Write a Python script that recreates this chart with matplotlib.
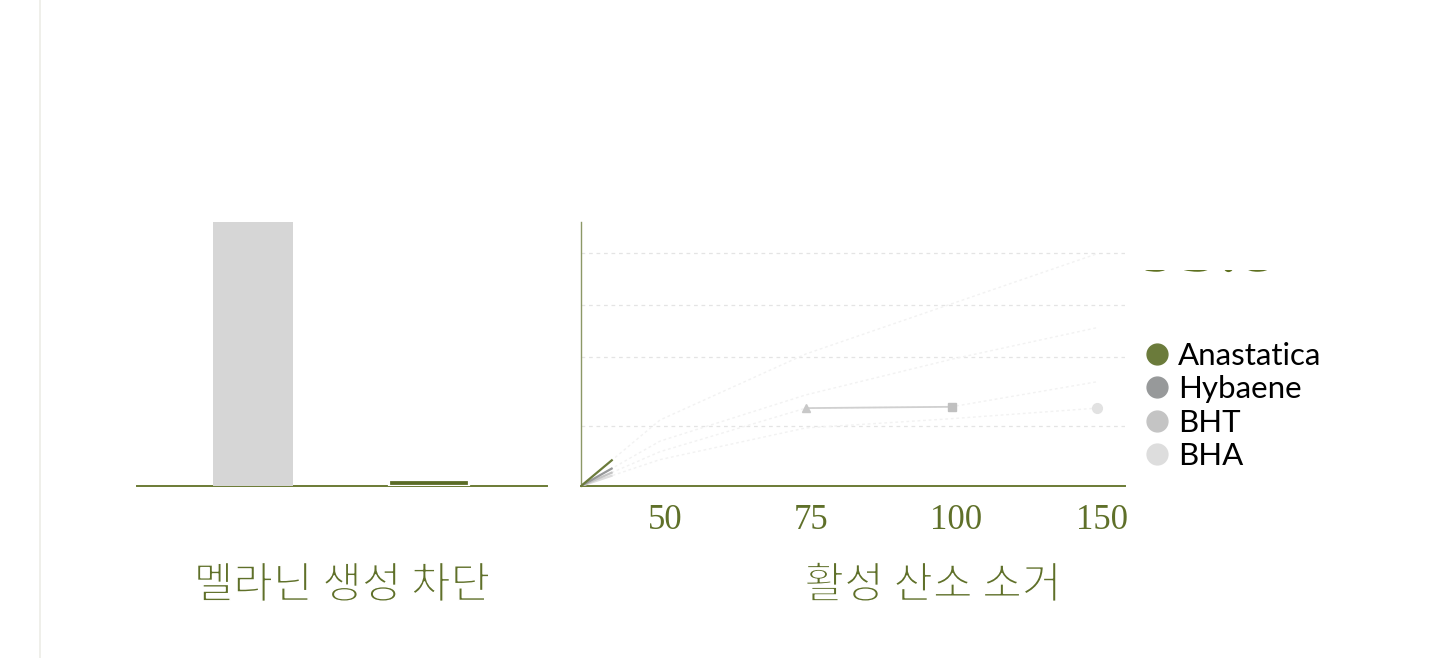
import matplotlib
matplotlib.use("Agg")
import matplotlib.pyplot as plt
import matplotlib.patheffects as pe
from matplotlib.font_manager import FontProperties
from matplotlib.lines import Line2D
from matplotlib.patches import PathPatch
from matplotlib.textpath import TextPath
from matplotlib.transforms import Affine2D, Bbox, ScaledTranslation

# --- data -------------------------------------------------------------
bar_labels = ["Hybaene", "Anastatica"]
bar_values = [100, 2.3]

doses = ["50", "75", "100", "150"]
anastatica = [25, 50, 69, 88]
hybaene = [17, 34.5, 48, 60]
bht = [13, 29.5, 30, 39.5]
bha = [10, 22, 25.5, 29.5]
grid_levels = [22.7, 48.9, 68.6, 88.3]

series_names = ["Anastatica", "Hybaene", "BHT", "BHA"]
series_colors = ["#6b7b3b", "#97999a", "#c4c4c4", "#dddddd"]
progress = 0.4  # how far the animated lines have grown from the origin
headline = "93.8"

OLIVE = "#5f7029"
plt.rcParams["font.family"] = ["Noto Sans CJK KR", "DejaVu Sans"]

fig = plt.figure(figsize=(14.3, 6.58), dpi=100)

# thin rule at the far left
fig.add_artist(Line2D([0.028, 0.028], [0, 1], transform=fig.transFigure,
                      color="#ecece6", lw=1.2))

# --- left: melanin bars ----------------------------------------------
ax1 = fig.add_axes([0.0958, 0.2614, 0.2867, 0.4012])
ax1.bar([0], bar_values[:1], width=0.453, color="#d6d6d6", zorder=2)
ax1.bar([1], bar_values[1:], width=0.453, color="#5a6b26",
        edgecolor="white", linewidth=1.6, zorder=3)
ax1.set_xlim(-0.657, 1.666)
ax1.set_ylim(0, 100)
for s in ["top", "right", "left"]:
    ax1.spines[s].set_visible(False)
ax1.spines["bottom"].set_color("#6b7b35")
ax1.spines["bottom"].set_linewidth(1.4)
ax1.spines["bottom"].set_zorder(1)
ax1.set_xticks([])
ax1.set_yticks([])

# --- right: antioxidant lines ----------------------------------------
ax2 = fig.add_axes([0.4063, 0.2614, 0.3804, 0.4012])
xs = list(range(len(doses)))
ax2.set_xlim(-0.542, 3.19)
ax2.set_ylim(0, 100)
x0 = ax2.get_xlim()[0]

for lvl in grid_levels:
    ax2.axhline(lvl, color="#e4e4e4", lw=0.9, ls=(0, (3, 3)), zorder=0)

# faded remnants of the full curves
for vals in [anastatica, hybaene, bht, bha]:
    ax2.plot([x0] + xs, [0] + vals, color="#f2f2f2", lw=1.0,
             ls=(0, (2, 2)), zorder=1)

# BHT points that are already settled
ax2.plot(xs[1:3], bht[1:3], color="#d0d0d0", lw=1.3, zorder=2)
ax2.plot(xs[1], bht[1], marker="^", color="#c8c8c8", ms=6, zorder=3)
ax2.plot(xs[2], bht[2], marker="s", color="#c0c0c0", ms=6, zorder=3)
ax2.plot(xs[3], bha[3], marker="o", color="#e2e2e2", ms=7, zorder=3)

# growing segments from the origin
for vals, col in zip([bha, bht, hybaene, anastatica], series_colors[::-1]):
    ax2.plot([x0, x0 + (xs[0] - x0) * progress], [0, vals[0] * progress],
             color=col, lw=1.6, zorder=4, solid_capstyle="butt")

for s in ["top", "right"]:
    ax2.spines[s].set_visible(False)
ax2.spines["left"].set_color("#8c9866")
ax2.spines["left"].set_linewidth(1.0)
ax2.spines["bottom"].set_color("#6b7b35")
ax2.spines["bottom"].set_linewidth(1.4)
ax2.set_yticks([])
ax2.set_xticks(xs)
ax2.set_xticklabels(doses, family="Liberation Serif", fontsize=25, color=OLIVE)
ax2.tick_params(axis="x", length=0, pad=13)
for lab in ax2.get_xticklabels():
    lab.set_transform(lab.get_transform() + ScaledTranslation(5 / 100, 0, fig.dpi_scale_trans))

# --- legend --------------------------------------------------------------
handles = [Line2D([], [], ls="none", marker="o", ms=15, color=c) for c in series_colors]
fig.legend(handles, series_names, loc="upper left", bbox_to_anchor=(0.8, 0.481),
           frameon=False, prop={"family": "Lato", "size": 22.5}, handletextpad=0.3,
           labelspacing=0.18, handlelength=0.8, borderaxespad=0, borderpad=0)

# big headline figure above the legend: only a sliver of its bottom shows
tp = TextPath((0, 0), headline, size=56, prop=FontProperties(family="Liberation Serif"))
base_px = 658 - 271
head = PathPatch(tp, facecolor="#5e7020", edgecolor="none",
                 transform=Affine2D().scale(100 / 72).translate(1141, base_px))
fig.add_artist(head)
head.set_clip_box(Bbox.from_extents(1100, base_px - 1.5, 1320, base_px + 1.5))
head.set_clip_on(True)

# --- panel captions ----------------------------------------------------
thin = [pe.Stroke(linewidth=1.1, foreground="white")]
fig.text(342 / 1430, 1 - 586 / 658, "멜라닌 생성 차단", ha="center", va="center",
         fontsize=31, color="#5f7029", path_effects=thin)
fig.text(933 / 1430, 1 - 586 / 658, "활성 산소 소거", ha="center", va="center",
         fontsize=31, color="#5f7029", path_effects=thin)

fig.savefig("out.png", dpi=100, facecolor="white")
